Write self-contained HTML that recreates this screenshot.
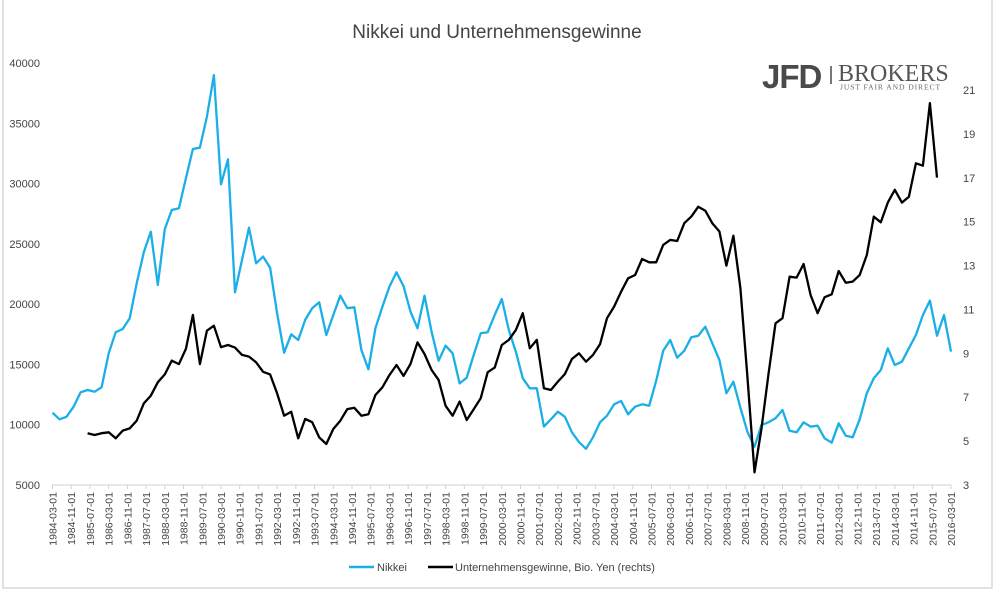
<!DOCTYPE html>
<html><head><meta charset="utf-8"><style>
html,body{margin:0;padding:0;background:#fff;}
svg{display:block;font-family:"Liberation Sans",sans-serif;}
</style></head><body>
<svg id="chart" width="1000" height="596" viewBox="0 0 1000 596">
<rect x="3" y="-2" width="989" height="590" fill="#fff" stroke="#d9d9d9" stroke-width="1.5"/>
<text x="497" y="38" text-anchor="middle" font-size="19" fill="#444">Nikkei und Unternehmensgewinne</text>
<g>
<text x="762" y="88" font-size="33" font-weight="bold" fill="#4a4a4a" letter-spacing="-1">JFD</text>
<rect x="830" y="66" width="2" height="18" fill="#777"/>
<text x="838" y="81" font-size="24" font-family="Liberation Serif, serif" fill="#555">BROKERS</text>
<text x="840" y="89.5" font-size="7.6" font-family="Liberation Serif, serif" fill="#666" letter-spacing="0.9">JUST FAIR AND DIRECT</text>
</g>
<g id="axes"></g>
<g id="series"></g>
<g>
<line x1="349" y1="567" x2="374" y2="567" stroke="#1aafe6" stroke-width="2.5"/>
<text x="377" y="571" font-size="11" fill="#444">Nikkei</text>
<line x1="428" y1="567" x2="453" y2="567" stroke="#000" stroke-width="2.5"/>
<text x="455" y="571" font-size="11" fill="#444">Unternehmensgewinne, Bio. Yen (rechts)</text>
</g>
</svg>
<script>
const leftTicks=[5000,10000,15000,20000,25000,30000,35000,40000];
const rightTicks=[3,5,7,9,11,13,15,17,19,21];
const nikkei=[11000,10450,10660,11490,12690,12880,12740,13100,15920,17670,17940,18830,21730,24300,26010,21590,26230,27810,27950,30440,32870,32980,35550,39000,29940,32010,20980,23660,26340,23390,23940,23020,19240,15970,17500,17030,
18690,19660,20150,17440,19100,20700,19660,19740,16200,14600,18000,19790,21450,22640,21500,19370,18000,20700,17710,15310,16550,15920,13430,13900,15780,17580,17670,19100,20430,17860,16060,13850,13020,13020,9840,10450,11080,10660,9370,8560,
8000,8960,10200,10750,11690,11970,10860,11490,11690,11580,13650,16140,17030,15560,16140,17250,17380,18130,16750,15370,12610,13570,11410,9420,8180,9980,10200,10530,11220,9500,9370,10200,9840,
9920,8870,8510,10120,9090,8960,10450,12610,13850,14540,16340,14950,15230,16340,17440,19100,20290,17380,19100,16060];
const profits=[null,null,null,null,null,5.36,5.28,5.36,5.40,5.13,5.48,5.58,5.93,6.72,7.07,7.68,8.04,8.67,8.51,9.20,10.75,8.51,10.03,10.26,9.28,9.38,9.26,8.93,8.85,8.59,8.16,8.04,7.18,6.16,6.34,5.13,
6.01,5.86,5.17,4.87,5.55,5.93,6.46,6.52,6.16,6.22,7.10,7.45,8.01,8.47,7.97,8.52,9.50,8.97,8.24,7.79,6.61,6.16,6.80,5.96,6.45,6.95,8.14,8.35,9.38,9.61,10.06,10.83,9.23,9.61,7.41,7.33,7.71,8.06,8.74,9.00,
8.62,8.93,9.41,10.60,11.13,11.81,12.42,12.57,13.30,13.15,13.15,13.94,14.17,14.12,14.93,15.23,15.68,15.50,14.93,14.55,13.00,14.36,11.97,7.94,3.58,5.58,8.06,10.37,10.60,12.49,12.45,13.07,11.66,
10.83,11.56,11.69,12.75,12.22,12.27,12.57,13.48,15.23,14.97,15.87,16.45,15.87,16.14,17.66,17.55,20.40,17.01,null,null];
const startYear=1984, startMonth=3, labelStepMonths=8, labelCount=49;

const NS='http://www.w3.org/2000/svg';
const x0=52.5, x1=951, yb=485;
const nQ=nikkei.length;
function xScale(i){return x0+(x1-x0)*i/(nQ-1);}
function yL(v){return yb-(v-5000)/(40000-5000)*422;}
function yR(v){return yb-(v-3)/18*395;}
function el(tag,attrs,parent){const e=document.createElementNS(NS,tag);for(const k in attrs)e.setAttribute(k,attrs[k]);parent.appendChild(e);return e;}
const axes=document.getElementById('axes');
const series=document.getElementById('series');
leftTicks.forEach(v=>{
  const t=el('text',{x:40,y:yL(v)+4,'text-anchor':'end','font-size':11,fill:'#444'},axes);
  t.textContent=v;
  
  
});
rightTicks.forEach(v=>{
  const t=el('text',{x:963,y:yR(v)+4,'font-size':11,fill:'#444'},axes);
  t.textContent=v;
  
  
});
const ax=el('line',{x1:x0,y1:yb,x2:x1,y2:yb,stroke:'#d0d0d0','stroke-width':1},axes);


for(let k=0;k<labelCount;k++){
  const mTotal=(startMonth-1)+k*labelStepMonths;
  const yr=startYear+Math.floor(mTotal/12), mo=mTotal%12+1;
  const qi=(k*labelStepMonths)/3;
  const x=xScale(qi);
  const tk=el('line',{x1:x,y1:yb,x2:x,y2:yb+4,stroke:'#d0d0d0'},axes);
  
  
  const t=el('text',{x:0,y:0,'text-anchor':'end','font-size':10.5,fill:'#444',transform:`translate(${x+4},${yb+7}) rotate(-90)`},axes);
  t.textContent=`${yr}-${String(mo).padStart(2,'0')}-01`;
  
  
}
function pathFor(arr,ys){let d='',pen=false;arr.forEach((v,i)=>{if(v==null){pen=false;return;}d+=(pen?'L':'M')+xScale(i).toFixed(1)+' '+ys(v).toFixed(1)+' ';pen=true;});return d;}
const pn=el('path',{d:pathFor(nikkei,yL),fill:'none',stroke:'#1aafe6','stroke-width':2.3,'stroke-linejoin':'round'},series);


const pp=el('path',{d:pathFor(profits,yR),fill:'none',stroke:'#000','stroke-width':2.3,'stroke-linejoin':'round'},series);


</script>
</body></html>
